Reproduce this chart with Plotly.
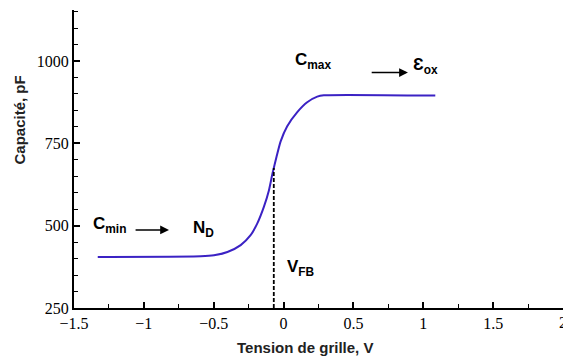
import plotly.graph_objects as go

# C-V curve of an MOS capacitor
tension = [-1.33, -0.593, -0.498, -0.402, -0.307, -0.236, -0.188, -0.141, -0.105,
           -0.079, -0.05, -0.021, 0.026, 0.098, 0.169, 0.241, 0.288, 1.086]
capacite = [405, 407, 410, 420, 441, 471, 507, 557, 607,
            659, 710, 756, 802, 845, 875, 892, 896, 895]

# flat-band voltage marker
v_fb = -0.07
c_fb = 675

x_ticks = [-1.5, -1, -0.5, 0, 0.5, 1, 1.5]
x_tick_text = ["\u22121.5", "\u22121", "\u22120.5", "0", "0.5", "1", "1.5"]
y_ticks = [250, 500, 750, 1000]

label_font = dict(family="Liberation Sans, Arial", size=17, color="black")
title_font = dict(family="Liberation Sans, Arial", size=15, color="#222")
tick_font = dict(family="Liberation Serif, Times New Roman", size=16, color="black")

fig = go.Figure()
fig.add_trace(go.Scatter(
    x=tension, y=capacite, mode="lines",
    line=dict(color="#3b22c4", width=2, shape="spline", smoothing=0.6),
    hoverinfo="skip", showlegend=False,
))
fig.add_trace(go.Scatter(
    x=[v_fb, v_fb], y=[250, c_fb], mode="lines",
    line=dict(color="black", width=1.8, dash="4px,2px"),
    hoverinfo="skip", showlegend=False,
))

annotations = [
    dict(x=-1.38, y=502, text="<b>C<sub>min</sub></b>"),
    dict(x=-0.665, y=490, text="<b>N<sub>D</sub></b>"),
    dict(x=0.01, y=373, text="<b>V<sub>FB</sub></b>"),
    dict(x=0.07, y=1000, text="<b>C<sub>max</sub></b>"),
    dict(x=0.915, y=985, text="<b>\u0190<sub>ox</sub></b>"),
]
for a in annotations:
    fig.add_annotation(showarrow=False, xanchor="left", yanchor="middle",
                       font=label_font, **a)

# arrows
for (x0, x1, yy) in [(-1.07, -0.82, 487), (0.62, 0.89, 965)]:
    fig.add_annotation(
        x=x1, y=yy, ax=x0, ay=yy, xref="x", yref="y", axref="x", ayref="y",
        text="", showarrow=True, arrowhead=2, arrowsize=1.1, arrowwidth=1.6,
        arrowcolor="black",
    )

# last x tick label sits on the right edge of the figure
fig.add_annotation(
    x=2, y=-0.047, xref="x", yref="paper", showarrow=False,
    xanchor="center", yanchor="middle", text="2", font=tick_font,
)

# axis titles
fig.add_annotation(
    x=0.472, y=-0.131, xref="paper", yref="paper", showarrow=False,
    xanchor="center", yanchor="middle",
    text="<b>Tension de grille, V</b>", font=title_font,
)
fig.add_annotation(
    x=-0.112, y=0.63, xref="paper", yref="paper", showarrow=False,
    xanchor="center", yanchor="middle",
    text="<b>Capacité, pF</b>", textangle=-90, font=title_font,
)

fig.update_xaxes(
    range=[-1.5, 2], tickvals=x_ticks, ticktext=x_tick_text,
    showline=True, linecolor="black", linewidth=2, mirror=False,
    ticks="inside", ticklen=6, tickwidth=1.5, tickcolor="black",
    minor=dict(dtick=0.25, ticks="inside", ticklen=4, tickwidth=1.2, tickcolor="black"),
    showgrid=False, zeroline=False, tickfont=tick_font,
)
fig.update_yaxes(
    range=[250, 1155], tickvals=y_ticks,
    showline=True, linecolor="black", linewidth=2, mirror=False,
    ticks="inside", ticklen=6, tickwidth=1.5, tickcolor="black",
    minor=dict(dtick=50, ticks="inside", ticklen=4, tickwidth=1.2, tickcolor="black"),
    showgrid=False, zeroline=False, tickfont=tick_font,
)
fig.update_layout(
    width=563, height=359,
    margin=dict(l=74, r=0, t=10, b=51),
    plot_bgcolor="white", paper_bgcolor="white",
)
fig.write_html("out.html")
